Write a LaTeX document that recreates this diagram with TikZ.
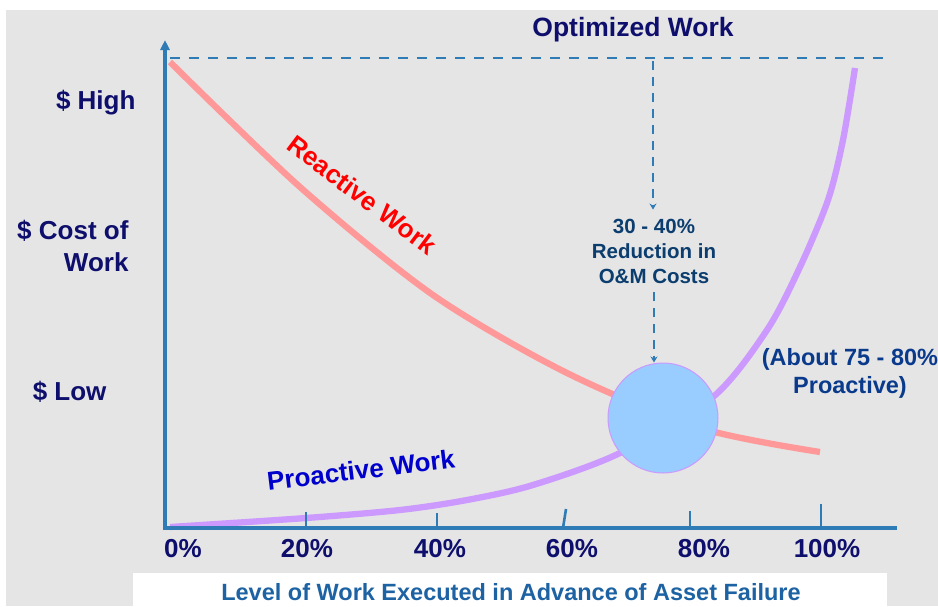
\documentclass[tikz,border=0pt]{standalone}
\usepackage{fontspec}
\setmainfont{Liberation Sans}
\usetikzlibrary{positioning,arrows.meta}
\definecolor{panel}{HTML}{E5E5E5}
\definecolor{axisblue}{HTML}{2F7BB6}
\definecolor{navy}{HTML}{0E0E6C}
\definecolor{reactred}{HTML}{FF9999}
\definecolor{proactlilac}{HTML}{CC99FF}
\definecolor{spotblue}{HTML}{99CCFF}
\definecolor{notedark}{HTML}{0B3D6E}
\definecolor{aboutblue}{HTML}{0A3A8C}
\definecolor{titleblue}{HTML}{1D63A4}

\begin{document}
\begin{tikzpicture}[x=1pt,y=-1pt,
axis/.style={draw=axisblue,line width=3.2pt},
ticker/.style={draw=axisblue,line width=2.6pt},
guide/.style={draw=axisblue,line width=2.2pt,dash pattern=on 10pt off 9pt},
drop/.style={draw=axisblue,line width=1.8pt,dash pattern=on 9pt off 7pt,
  -{Stealth[length=6pt,width=7pt]}},
curve/.style={line width=6.3pt},
lab/.style={text=navy,font=\fontsize{26}{32}\selectfont\bfseries},
pct/.style={text=navy,font=\fontsize{26}{32}\selectfont\bfseries}
]

% panel and white strip
\useasboundingbox (0,0) rectangle (938,606);
\fill[panel] (6,10) rectangle (938,606);
\fill[white] (133,573) rectangle (887,606);

% curves
\draw[curve,reactred] plot[smooth] coordinates {
  (170,62) (300,187) (433,295) (567,373) (700,428) (820,452)};
\draw[curve,proactlilac] plot[smooth] coordinates {
  (170,527) (306,518) (400,510) (467,500) (533,485) (620,453)
  (713,397) (767,330) (800,267) (828,200) (843,140) (855,68)};

% axes
\coordinate (origin) at (165,530);
\coordinate (ytop) at (165,40);
\coordinate (xend) at (897,528);
\draw[guide] (170,58) -- (886,58);
\draw[axis,-{Triangle[length=10pt,width=9pt]}] (origin) -- (ytop);
\draw[axis] (163,528) -- (xend);
\draw[ticker] (306,528) -- (306,512);
\draw[ticker] (437,528) -- (437,513);
\draw[ticker] (563,528) -- (566,509);
\draw[ticker] (690,528) -- (690,511);
\draw[ticker] (821,528) -- (821,504);

% axis labels
\node (p0) [pct] at (183,549) {0\%};
\node (p20) [pct] at (307,549) {20\%};
\node (p40) [pct] at (440,549) {40\%};
\node (p60) [pct] at (572,549) {60\%};
\node (p80) [pct] at (704,549) {80\%};
\node (p100) [pct] at (827,549) {100\%};

\node (high) [lab,anchor=east] at (139,103) {\$ High};
\node (cost) [lab,anchor=east,align=right] at (132,246) {\$ Cost of\\Work};
\node (low) [lab,anchor=east] at (110,392) {\$ Low};

\node (optim) [lab,font=\fontsize{26.5}{32}\selectfont\bfseries] at (633,30)
  {Optimized Work};

% curve names
\node (react) [rotate=-37,text=red,font=\fontsize{26}{30}\selectfont\bfseries]
  at (362,195) {Reactive Work};
\node (proact) [rotate=7,text=blue!80!black,font=\fontsize{26}{30}\selectfont\bfseries]
  at (361,470) {Proactive Work};

% optimum
\node (spot) [circle,minimum size=110pt,inner sep=0pt,fill=spotblue,
  draw=proactlilac,line width=1pt] at (663,418) {};
\node (cut) [align=center,inner sep=9pt,text=notedark,
  font=\fontsize{20.5}{25}\selectfont\bfseries] at (654,251)
  {30 - 40\%\\Reduction in\\O\&M Costs};
\coordinate (drophead) at (653,61);
\draw[drop] (drophead) -- (drophead |- cut.north);
\draw[drop] (cut.south) -- (cut.south |- spot.north);

\node (about) [align=center,text=aboutblue,
  font=\fontsize{23.5}{28}\selectfont\bfseries] at (850,373)
  {(About 75 - 80\%\\Proactive)};

\node (xtitle) [text=titleblue,font=\fontsize{23.5}{28}\selectfont\bfseries]
  at (511,592) {Level of Work Executed in Advance of Asset Failure};

\end{tikzpicture}
\end{document}
